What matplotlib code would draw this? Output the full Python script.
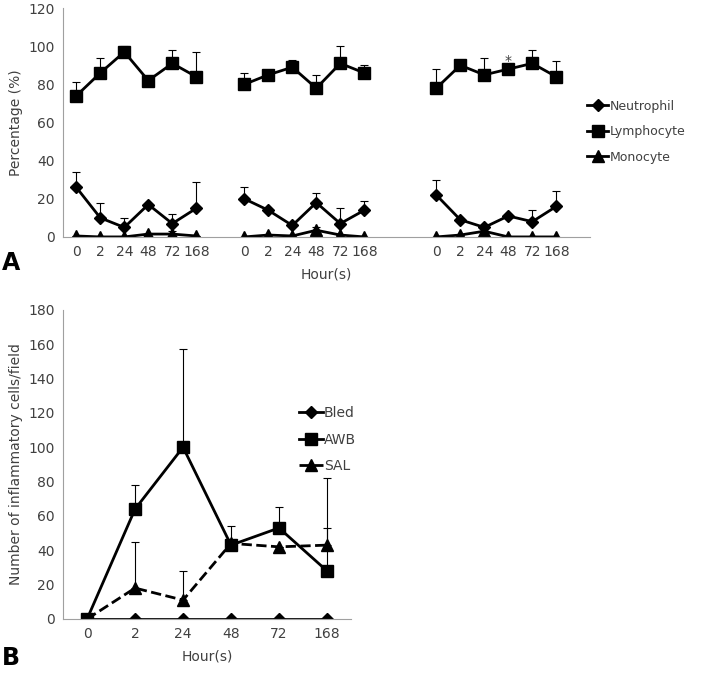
import matplotlib
matplotlib.use("Agg")
import matplotlib.pyplot as plt
from matplotlib.lines import Line2D
import numpy as np

hours = ["0", "2", "24", "48", "72", "168"]
# Panel A: three groups
groupA_pos = [list(range(0, 6)), list(range(7, 13)), list(range(15, 21))]
neut = [[26, 10, 5, 17, 7, 15], [20, 14, 6, 18, 7, 14], [22, 9, 5, 11, 8, 16]]
neut_err = [[8, 8, 5, 0, 5, 14], [6, 0, 0, 5, 8, 5], [8, 0, 0, 0, 6, 8]]
lymph = [[74, 86, 97, 82, 91, 84], [80, 85, 89, 78, 91, 86], [78, 90, 85, 88, 91, 84]]
lymph_err = [[7, 8, 3, 0, 7, 13], [6, 0, 4, 7, 9, 4], [10, 2, 9, 0, 7, 8]]
mono = [[0.5, 0, 0, 1.5, 1.5, 0.5], [0, 1, 0.5, 3.5, 1, 0], [0, 1, 3, 0, 0, 0]]
mono_err = [[0, 0, 0, 0, 1.5, 0], [0, 0, 0, 1.5, 0, 0], [0, 0, 0, 0, 0, 0]]

# Panel B
bled = [0, 0, 0, 0, 0, 0]
awb = [0, 64, 100, 43, 53, 28]
awb_err = [0, 14, 57, 11, 12, 25]
sal = [0, 18, 11, 44, 42, 43]
sal_err = [0, 27, 17, 0, 0, 39]

txt = "#404040"
plt.rcParams["font.family"] = "DejaVu Sans"
fig = plt.figure(figsize=(7.09, 6.75), dpi=100)

def style(ax):
    for s in ["top", "right"]:
        ax.spines[s].set_visible(False)
    for s in ["left", "bottom"]:
        ax.spines[s].set_color("#a0a0a0")
    ax.tick_params(length=0, labelsize=10, colors=txt, pad=6)

def handle(m, ms, ls="-"):
    return Line2D([], [], color="black", lw=2, marker=m, ms=ms, ls=ls)

# Panel A
axA = fig.add_axes([0.089, 0.649, 0.743, 0.339])
style(axA)
ekw = dict(color="black", lw=2, capsize=3, elinewidth=0.8, capthick=0.8)
for g in range(3):
    x = groupA_pos[g]
    axA.errorbar(x, neut[g], yerr=[np.zeros(6), neut_err[g]], marker="D", ms=6, **ekw)
    axA.errorbar(x, lymph[g], yerr=[np.zeros(6), lymph_err[g]], marker="s", ms=9, **ekw)
    axA.errorbar(x, mono[g], yerr=[np.zeros(6), mono_err[g]], marker="^", ms=8, **ekw)
axA.text(groupA_pos[2][3], 92, "*", ha="center", va="center", fontsize=10, color=txt)
axA.set_ylim(0, 120)
axA.set_yticks(range(0, 121, 20))
axA.set_xlim(-0.55, 21.4)
allpos = sum(groupA_pos, [])
axA.set_xticks(allpos)
axA.set_xticklabels(hours * 3)
axA.set_xlabel("Hour(s)", color=txt, fontsize=10, labelpad=6)
axA.set_ylabel("Percentage (%)", color=txt, fontsize=10)
axA.legend([handle("D", 6), handle("s", 9), handle("^", 8)],
           ["Neutrophil", "Lymphocyte", "Monocyte"],
           loc="center left", bbox_to_anchor=(0.985, 0.46), frameon=False,
           fontsize=9, labelcolor=txt, handlelength=1.7, handletextpad=0.1,
           labelspacing=1.0, borderaxespad=0)
fig.text(0.003, 0.6, "A", fontsize=17, fontweight="bold")

# Panel B
axB = fig.add_axes([0.089, 0.083, 0.406, 0.458])
style(axB)
xb = np.arange(6)
axB.plot(xb, bled, marker="D", ms=6, color="black", lw=2)
axB.errorbar(xb, awb, yerr=[np.zeros(6), awb_err], marker="s", ms=9, **ekw)
axB.errorbar(xb, sal, yerr=[np.zeros(6), sal_err], marker="^", ms=8, ls="--", **ekw)
axB.set_ylim(0, 180)
axB.set_yticks(range(0, 181, 20))
axB.set_xlim(-0.5, 5.5)
axB.set_xticks(xb)
axB.set_xticklabels(hours)
axB.set_xlabel("Hour(s)", color=txt, fontsize=10, labelpad=6)
axB.set_ylabel("Number of inflammatory cells/field", color=txt, fontsize=10)
axB.legend([handle("D", 6), handle("s", 9), handle("^", 8, "--")],
           ["Bled", "AWB", "SAL"],
           loc="center left", bbox_to_anchor=(0.8, 0.58), frameon=False,
           fontsize=10, labelcolor=txt, handlelength=1.7, handletextpad=0.1,
           labelspacing=0.9, borderaxespad=0)
fig.text(0.003, 0.015, "B", fontsize=17, fontweight="bold")

fig.savefig("out.png", dpi=100)
